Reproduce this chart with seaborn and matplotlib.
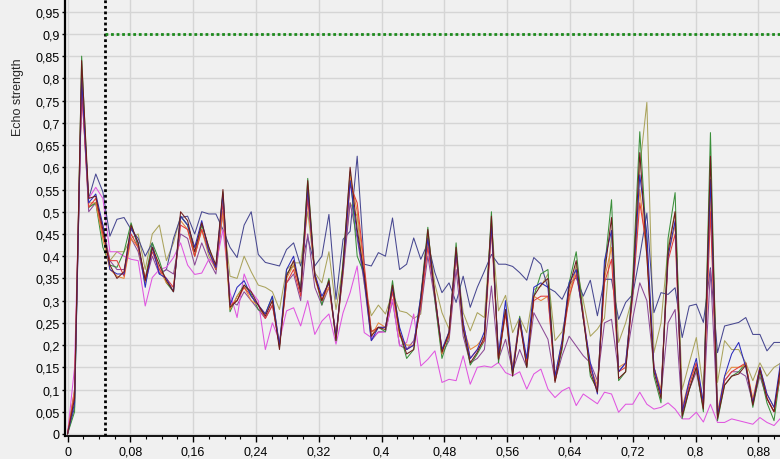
import numpy as np
import pandas as pd
import matplotlib
matplotlib.use("Agg")
import matplotlib.pyplot as plt
import seaborn as sns
from matplotlib.ticker import MultipleLocator

# ---------------- data ----------------
STEP = 0.009          # sampling interval of the x axis
N_POINTS = 102
t_values = np.round(np.arange(N_POINTS) * STEP, 4)

brown = [
    0.0, 0.08, 0.84, 0.53, 0.535, 0.46, 0.38, 0.35, 0.365, 0.47,
    0.43, 0.345, 0.42, 0.38, 0.345, 0.32, 0.50, 0.48, 0.41, 0.475,
    0.42, 0.38, 0.55, 0.285, 0.30, 0.335, 0.32, 0.29, 0.265, 0.30,
    0.19, 0.355, 0.39, 0.32, 0.57, 0.355, 0.30, 0.345, 0.21, 0.38,
    0.60, 0.46, 0.36, 0.22, 0.24, 0.235, 0.335, 0.228, 0.18, 0.19,
    0.30, 0.46, 0.31, 0.184, 0.228, 0.42, 0.236, 0.16, 0.184, 0.218,
    0.49, 0.168, 0.28, 0.131, 0.255, 0.15, 0.31, 0.335, 0.35, 0.116,
    0.198, 0.33, 0.39, 0.26, 0.14, 0.094, 0.36, 0.487, 0.125, 0.14,
    0.33, 0.633, 0.40, 0.14, 0.08, 0.41, 0.50, 0.04, 0.10, 0.15,
    0.056, 0.625, 0.035, 0.11, 0.13, 0.135, 0.155, 0.065, 0.145, 0.08,
    0.05, 0.16,
]
green = [
    0.0, 0.05, 0.85, 0.51, 0.52, 0.42, 0.38, 0.375, 0.41, 0.475,
    0.42, 0.35, 0.43, 0.39, 0.34, 0.32, 0.49, 0.47, 0.40, 0.47,
    0.42, 0.37, 0.545, 0.275, 0.31, 0.335, 0.315, 0.28, 0.27, 0.31,
    0.195, 0.36, 0.38, 0.33, 0.575, 0.36, 0.29, 0.35, 0.21, 0.39,
    0.59, 0.40, 0.36, 0.23, 0.24, 0.23, 0.345, 0.23, 0.17, 0.19,
    0.31, 0.465, 0.30, 0.17, 0.22, 0.43, 0.24, 0.155, 0.18, 0.21,
    0.50, 0.16, 0.28, 0.13, 0.265, 0.15, 0.31, 0.36, 0.37, 0.12,
    0.19, 0.34, 0.41, 0.27, 0.13, 0.10, 0.37, 0.527, 0.12, 0.14,
    0.35, 0.68, 0.42, 0.13, 0.07, 0.44, 0.543, 0.035, 0.10, 0.15,
    0.05, 0.678, 0.03, 0.11, 0.13, 0.14, 0.16, 0.06, 0.14, 0.07,
    0.03, 0.15,
]
blue = [
    0.0, 0.07, 0.80, 0.52, 0.54, 0.47, 0.37, 0.36, 0.36, 0.465,
    0.43, 0.33, 0.42, 0.36, 0.35, 0.32, 0.49, 0.47, 0.42, 0.48,
    0.41, 0.375, 0.54, 0.29, 0.33, 0.345, 0.31, 0.29, 0.27, 0.31,
    0.20, 0.37, 0.40, 0.32, 0.55, 0.36, 0.31, 0.34, 0.22, 0.37,
    0.57, 0.45, 0.35, 0.21, 0.24, 0.24, 0.33, 0.24, 0.19, 0.20,
    0.31, 0.44, 0.31, 0.19, 0.23, 0.41, 0.25, 0.17, 0.19, 0.23,
    0.47, 0.18, 0.30, 0.14, 0.26, 0.17, 0.33, 0.34, 0.33, 0.13,
    0.21, 0.34, 0.37, 0.26, 0.16, 0.09, 0.39, 0.458, 0.14, 0.16,
    0.32, 0.583, 0.45, 0.15, 0.09, 0.40, 0.48, 0.05, 0.12, 0.17,
    0.07, 0.573, 0.04, 0.13, 0.18, 0.206, 0.15, 0.07, 0.15, 0.09,
    0.06, 0.17,
]
red = [
    0.0, 0.09, 0.78, 0.51, 0.53, 0.45, 0.39, 0.39, 0.355, 0.45,
    0.42, 0.35, 0.41, 0.37, 0.35, 0.33, 0.47, 0.46, 0.40, 0.46,
    0.41, 0.37, 0.52, 0.29, 0.30, 0.33, 0.31, 0.29, 0.26, 0.29,
    0.20, 0.34, 0.37, 0.31, 0.53, 0.36, 0.30, 0.34, 0.22, 0.37,
    0.56, 0.52, 0.38, 0.23, 0.24, 0.24, 0.32, 0.23, 0.19, 0.20,
    0.29, 0.42, 0.31, 0.19, 0.22, 0.40, 0.25, 0.17, 0.19, 0.21,
    0.46, 0.17, 0.27, 0.14, 0.25, 0.16, 0.30, 0.31, 0.31, 0.12,
    0.20, 0.31, 0.36, 0.27, 0.15, 0.10, 0.34, 0.393, 0.14, 0.15,
    0.31, 0.52, 0.42, 0.15, 0.09, 0.39, 0.45, 0.05, 0.11, 0.16,
    0.06, 0.50, 0.04, 0.12, 0.14, 0.15, 0.16, 0.07, 0.15, 0.08,
    0.05, 0.15,
]
orange = [
    0.0, 0.10, 0.80, 0.52, 0.52, 0.44, 0.37, 0.355, 0.35, 0.44,
    0.42, 0.34, 0.42, 0.37, 0.34, 0.33, 0.48, 0.46, 0.40, 0.46,
    0.41, 0.38, 0.50, 0.28, 0.31, 0.33, 0.30, 0.29, 0.27, 0.30,
    0.20, 0.35, 0.38, 0.32, 0.54, 0.35, 0.30, 0.33, 0.22, 0.36,
    0.58, 0.50, 0.37, 0.22, 0.25, 0.24, 0.32, 0.22, 0.20, 0.20,
    0.30, 0.43, 0.32, 0.18, 0.23, 0.41, 0.24, 0.19, 0.20, 0.22,
    0.47, 0.17, 0.28, 0.15, 0.26, 0.16, 0.31, 0.30, 0.31, 0.13,
    0.21, 0.32, 0.37, 0.26, 0.15, 0.11, 0.35, 0.42, 0.15, 0.16,
    0.32, 0.55, 0.40, 0.15, 0.10, 0.40, 0.47, 0.06, 0.12, 0.16,
    0.07, 0.53, 0.05, 0.13, 0.15, 0.15, 0.155, 0.08, 0.15, 0.09,
    0.06, 0.15,
]
olive = [
    0.0, 0.09, 0.82, 0.51, 0.52, 0.44, 0.39, 0.41, 0.41, 0.44,
    0.45, 0.37, 0.45, 0.47, 0.39, 0.43, 0.49, 0.47, 0.42, 0.46,
    0.40, 0.37, 0.50, 0.355, 0.35, 0.40, 0.365, 0.335, 0.33, 0.32,
    0.28, 0.37, 0.385, 0.385, 0.50, 0.363, 0.34, 0.41, 0.28, 0.378,
    0.52, 0.49, 0.337, 0.266, 0.29, 0.27, 0.318, 0.277, 0.273, 0.26,
    0.27, 0.45, 0.337, 0.273, 0.236, 0.40, 0.273, 0.232, 0.273, 0.262,
    0.475, 0.277, 0.312, 0.228, 0.262, 0.228, 0.325, 0.332, 0.36, 0.21,
    0.23, 0.30, 0.38, 0.30, 0.22, 0.236, 0.26, 0.45, 0.206, 0.25,
    0.31, 0.60, 0.746, 0.183, 0.25, 0.42, 0.50, 0.10, 0.16, 0.217,
    0.10, 0.55, 0.116, 0.21, 0.19, 0.19, 0.16, 0.12, 0.16, 0.13,
    0.15, 0.16,
]
navy = [
    0.0, 0.06, 0.79, 0.53, 0.585, 0.545, 0.445, 0.483, 0.487, 0.46,
    0.44, 0.40, 0.43, 0.36, 0.37, 0.44, 0.487, 0.49, 0.45, 0.50,
    0.495, 0.495, 0.46, 0.42, 0.397, 0.47, 0.50, 0.404, 0.386, 0.382,
    0.378, 0.415, 0.43, 0.378, 0.442, 0.378, 0.40, 0.494, 0.303, 0.438,
    0.456, 0.625, 0.382, 0.378, 0.408, 0.40, 0.486, 0.37, 0.382, 0.441,
    0.393, 0.43, 0.363, 0.318, 0.34, 0.296, 0.355, 0.285, 0.33, 0.366,
    0.404, 0.382, 0.382, 0.377, 0.363, 0.346, 0.397, 0.382, 0.329, 0.32,
    0.303, 0.337, 0.352, 0.31, 0.346, 0.266, 0.348, 0.348, 0.258, 0.296,
    0.314, 0.40, 0.497, 0.273, 0.318, 0.314, 0.329, 0.217, 0.288, 0.292,
    0.251, 0.374, 0.183, 0.243, 0.247, 0.251, 0.262, 0.224, 0.224, 0.187,
    0.206, 0.206,
]
purple = [
    0.0, 0.10, 0.79, 0.50, 0.52, 0.47, 0.39, 0.37, 0.37, 0.44,
    0.41, 0.34, 0.40, 0.36, 0.37, 0.36, 0.45, 0.44, 0.38, 0.43,
    0.39, 0.36, 0.50, 0.30, 0.29, 0.32, 0.30, 0.28, 0.26, 0.29,
    0.20, 0.34, 0.36, 0.30, 0.45, 0.33, 0.29, 0.33, 0.22, 0.36,
    0.52, 0.44, 0.34, 0.21, 0.23, 0.23, 0.30, 0.20, 0.19, 0.21,
    0.28, 0.40, 0.30, 0.18, 0.21, 0.37, 0.22, 0.16, 0.17, 0.19,
    0.333, 0.168, 0.213, 0.142, 0.19, 0.15, 0.273, 0.243, 0.213, 0.12,
    0.176, 0.22, 0.198, 0.176, 0.16, 0.12, 0.25, 0.258, 0.14, 0.16,
    0.26, 0.34, 0.30, 0.15, 0.09, 0.25, 0.28, 0.05, 0.10, 0.14,
    0.06, 0.37, 0.04, 0.12, 0.14, 0.14, 0.13, 0.07, 0.13, 0.08,
    0.05, 0.14,
]
magenta = [
    0.0, 0.15, 0.77, 0.53, 0.555, 0.53, 0.41, 0.41, 0.40, 0.393,
    0.39, 0.288, 0.352, 0.37, 0.375, 0.397, 0.43, 0.38, 0.359, 0.362,
    0.393, 0.38, 0.46, 0.318, 0.262, 0.36, 0.32, 0.30, 0.19, 0.25,
    0.21, 0.277, 0.284, 0.243, 0.30, 0.224, 0.254, 0.27, 0.202, 0.273,
    0.318, 0.378, 0.228, 0.217, 0.228, 0.23, 0.303, 0.198, 0.206, 0.27,
    0.153, 0.168, 0.187, 0.116, 0.123, 0.12, 0.176, 0.112, 0.15, 0.153,
    0.15, 0.161, 0.138, 0.131, 0.14, 0.101, 0.135, 0.146, 0.101, 0.082,
    0.097, 0.105, 0.064, 0.09, 0.079, 0.068, 0.094, 0.09, 0.049, 0.067,
    0.067, 0.094, 0.067, 0.056, 0.06, 0.07, 0.056, 0.034, 0.034, 0.049,
    0.027, 0.067, 0.026, 0.026, 0.034, 0.03, 0.026, 0.022, 0.037, 0.026,
    0.019, 0.037,
]

series_names = ["olive", "navy", "purple", "magenta", "green",
                "orange", "red", "blue", "brown"]
series_values = [olive, navy, purple, magenta, green,
                 orange, red, blue, brown]
series_colors = ["#aaa35c", "#474790", "#8c4a96", "#e055e0", "#3a8f3a",
                 "#e5893a", "#e23b3b", "#2b2bbd", "#6e1c1c"]

THRESHOLD = 0.9
MARKER_X = 0.048

y_ticks = [round(0.05 * k, 2) for k in range(20)]
y_tick_labels = ["0", "0,05", "0,1", "0,15", "0,2", "0,25", "0,3", "0,35",
                 "0,4", "0,45", "0,5", "0,55", "0,6", "0,65", "0,7", "0,75",
                 "0,8", "0,85", "0,9", "0,95"]
x_ticks = [0, 0.08, 0.16, 0.24, 0.32, 0.4, 0.48, 0.56, 0.64, 0.72, 0.8, 0.88]
x_tick_labels = ["0", "0,08", "0,16", "0,24", "0,32", "0,4", "0,48",
                 "0,56", "0,64", "0,72", "0,8", "0,88"]
y_label = "Echo strength"

# ---------------- table ----------------
frames = []
for name, vals in zip(series_names, series_values):
    frames.append(pd.DataFrame({"t": t_values[:len(vals)],
                                "v": vals[:N_POINTS],
                                "series": name}))
df = pd.concat(frames, ignore_index=True)

# ---------------- figure ----------------
sns.set_style("white")
plt.rcParams["font.family"] = ["Liberation Sans", "DejaVu Sans"]

BG = "#f0f0f0"
fig = plt.figure(figsize=(7.8, 4.6), dpi=100, facecolor=BG)
ax = fig.add_axes([65 / 780, 23 / 460, 715 / 780, 437 / 460])
ax.set_facecolor(BG)

sns.lineplot(data=df, x="t", y="v", hue="series", hue_order=series_names,
             palette=dict(zip(series_names, series_colors)),
             sort=False, estimator=None, legend=False, linewidth=0.75, ax=ax)

ax.set_xlim(-0.0032, 0.9076)
ax.set_ylim(-0.0045, 0.9786)

ax.axvline(MARKER_X, color="black", linestyle=(0, (1, 1)), linewidth=2.0,
           zorder=5)
ax.plot([MARKER_X, ax.get_xlim()[1]], [THRESHOLD, THRESHOLD],
        color="#1d8a1d", linestyle=(0, (1, 1)), linewidth=2.0, zorder=5)

ax.set_xticks(x_ticks)
ax.set_xticklabels(x_tick_labels)
ax.set_yticks(y_ticks)
ax.set_yticklabels(y_tick_labels)
ax.xaxis.set_minor_locator(MultipleLocator(0.02))

ax.grid(True, which="major", color="#d5d5d5", linewidth=1.0)
ax.set_axisbelow(True)

for s in ("top", "right"):
    ax.spines[s].set_visible(False)
ax.spines["left"].set_color("black")
ax.spines["left"].set_linewidth(1.6)
ax.spines["bottom"].set_color("black")
ax.spines["bottom"].set_linewidth(1.3)

ax.tick_params(axis="y", which="major", length=2.5, width=1, pad=1.5,
               labelsize=9, colors="black", left=True)
ax.tick_params(axis="x", which="major", length=4, width=1, pad=3,
               labelsize=9, colors="black", bottom=True)
ax.tick_params(axis="x", which="minor", length=2, width=0.8,
               colors="black", bottom=True)

ax.set_xlabel("")
ax.set_ylabel("")
fig.text(18 / 780, 1 - 97 / 460, y_label, rotation=90, va="center",
         ha="center", fontsize=9)

fig.savefig("out.png", dpi=100, facecolor=BG)
